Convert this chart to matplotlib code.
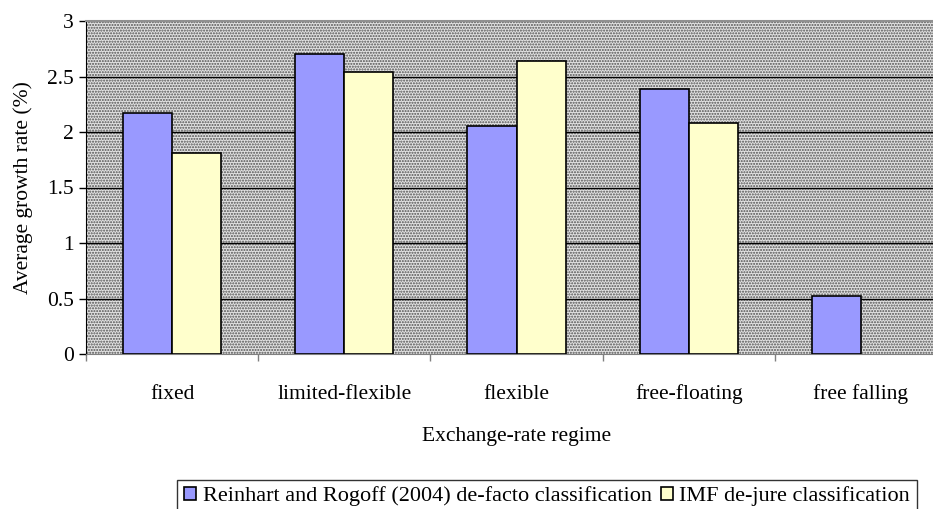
import matplotlib
matplotlib.use("Agg")
import matplotlib.pyplot as plt
import numpy as np
from matplotlib.patches import Rectangle

categories = ["fixed", "limited-flexible", "flexible", "free-floating", "free falling"]
rr_defacto = [2.17, 2.70, 2.05, 2.39, 0.52]
imf_dejure = [1.81, 2.54, 2.64, 2.08, np.nan]
series_names = ["Reinhart and Rogoff (2004) de-facto classification", "IMF de-jure classification"]
yticks = [0, 0.5, 1, 1.5, 2, 2.5, 3]

plt.rcParams['font.family'] = ['Liberation Serif', 'DejaVu Serif']
plt.rcParams['hatch.linewidth'] = 1.0
plt.rcParams['hatch.color'] = '#505050'

FS = 15.5
fig = plt.figure(figsize=(9.33, 5.09), dpi=100)
W, H = 933, 509
left, right, top, bottom = 86, 947, 21, 354
ax = fig.add_axes([left / W, 1 - bottom / H, (right - left) / W, (bottom - top) / H])

x = np.arange(len(categories))
bw = 0.285
bg = Rectangle((0, 0), 1, 1, transform=ax.transAxes, facecolor='#e2e2e2',
               edgecolor='#505050', hatch='......', linewidth=0, zorder=0)
ax.add_patch(bg)
ax.set_facecolor('white')

for yv in yticks[1:-1]:
    ax.axhline(yv, color='black', lw=1.0, zorder=1)

ax.bar(x - bw / 2, rr_defacto, bw, color='#9999ff', edgecolor='black', lw=1.2, zorder=3,
       label=series_names[0])
ax.bar(x + bw / 2, imf_dejure, bw, color='#ffffcc', edgecolor='black', lw=1.2, zorder=3,
       label=series_names[1])

ax.set_xlim(-0.5, len(categories) - 0.5)
ax.set_ylim(0, 3)
ax.set_yticks(yticks)
ax.set_yticklabels(['0', '0.5', '1', '1.5', '2', '2.5', '3'], fontsize=FS)
ax.set_xticks(x)
ax.set_xticklabels(categories, fontsize=FS)
ax.set_xticks(np.arange(-0.5, len(categories)), minor=True)
ax.tick_params(axis='x', which='major', length=0, pad=22)
ax.tick_params(axis='x', which='minor', length=5, color='#808080', width=1)
ax.tick_params(axis='y', length=5, width=1, color='black', pad=4)

ax.spines['left'].set_color('black')
ax.spines['bottom'].set_color('#808080')
ax.spines['top'].set_color('#909090')
ax.spines['top'].set_linewidth(1.5)
ax.spines['right'].set_visible(False)

ax.set_ylabel('Average growth rate (%)', fontsize=FS, labelpad=10)
ax.set_xlabel('Exchange-rate regime', fontsize=FS, labelpad=16)

leg = fig.legend(loc='lower center', bbox_to_anchor=(547 / W, -0.03), ncol=2, fontsize=16,
                 frameon=True, fancybox=False, edgecolor='black', handlelength=0.55,
                 handleheight=0.55, handletextpad=0.3, columnspacing=0.4, borderpad=0.3)
leg.get_frame().set_linewidth(1.0)

fig.savefig('out.png', dpi=100)
